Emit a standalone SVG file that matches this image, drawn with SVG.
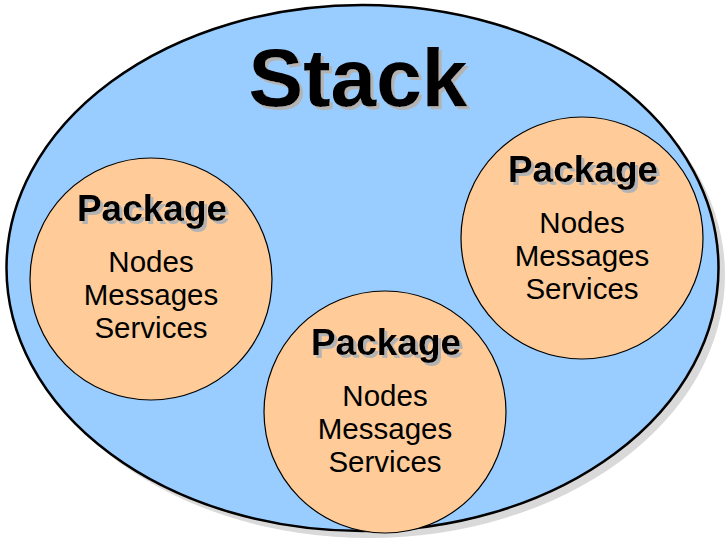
<svg xmlns="http://www.w3.org/2000/svg" width="727" height="541" viewBox="0 0 727 541">
<defs>
<filter id="tshadow" x="-10%" y="-10%" width="130%" height="140%">
<feOffset in="SourceAlpha" dx="3" dy="3" result="off"/>
<feFlood flood-color="#b3b3b3"/>
<feComposite in2="off" operator="in" result="sh"/>
<feMerge><feMergeNode in="sh"/><feMergeNode in="SourceGraphic"/></feMerge>
</filter>
</defs>
<style>
.pkg{fill:#ffcc99;stroke:#000;stroke-width:1.2}
.title{font-family:"Liberation Sans",Arial,sans-serif;font-weight:bold;text-anchor:middle;fill:#000;filter:url(#tshadow)}
.item{font-family:"Liberation Sans",Arial,sans-serif;font-size:29.5px;text-anchor:middle;fill:#000}
</style>
<rect width="727" height="541" fill="#fff"/>
<g id="stack">
<ellipse cx="369" cy="275" rx="356" ry="263" fill="#d9d9d9"/>
<ellipse cx="362.5" cy="268" rx="356" ry="263" fill="#99ccff" stroke="#000" stroke-width="2.5"/>
<text class="title" x="358" y="106" font-size="82">Stack</text>
</g>
<g id="package-left">
<circle class="pkg" cx="151" cy="279" r="121"/>
<text class="title" x="152" y="221" font-size="37">Package</text>
<text class="item" x="151" y="272">Nodes</text>
<text class="item" x="151" y="305">Messages</text>
<text class="item" x="151" y="338">Services</text>
</g>
<g id="package-middle">
<circle class="pkg" cx="385" cy="412" r="121"/>
<text class="title" x="386" y="355" font-size="37">Package</text>
<text class="item" x="385" y="406">Nodes</text>
<text class="item" x="385" y="439">Messages</text>
<text class="item" x="385" y="472">Services</text>
</g>
<g id="package-right">
<circle class="pkg" cx="582" cy="238" r="121"/>
<text class="title" x="583" y="182" font-size="37">Package</text>
<text class="item" x="582" y="233">Nodes</text>
<text class="item" x="582" y="266">Messages</text>
<text class="item" x="582" y="299">Services</text>
</g>
<g id="connectors"/>
</svg>
